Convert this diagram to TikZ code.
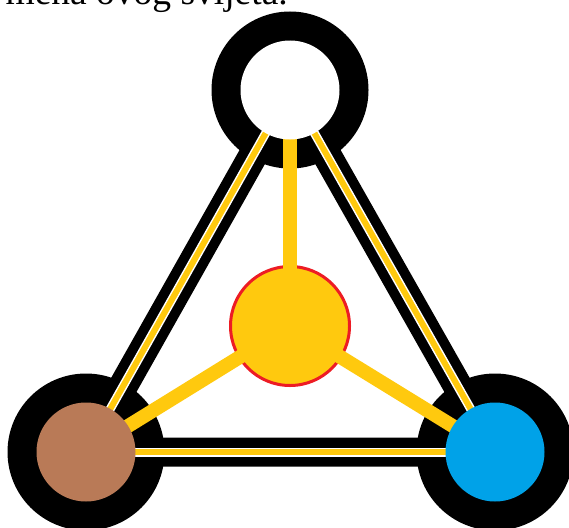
\documentclass[tikz,border=0pt]{standalone}
\usepackage{fontspec}
\setmainfont{Liberation Serif}
\definecolor{ylw}{HTML}{FFC90E}
\definecolor{brn}{HTML}{B97A57}
\definecolor{blu}{HTML}{00A2E8}
\definecolor{rd}{HTML}{ED1C24}
\begin{document}
\begin{tikzpicture}[x=1pt,y=-1pt,
  band/.style={line width=29pt,black},
  stripe/.style={line width=9pt,white},
  yline/.style={line width=6pt,ylw},
  spoke/.style={line width=14pt,ylw},
  ring/.style={circle,fill=black,minimum size=157pt,inner sep=0pt},
  disc/.style={circle,minimum size=99pt,inner sep=0pt},
  hub/.style={circle,fill=ylw,draw=rd,line width=3pt,minimum size=119pt,inner sep=0pt}]
\useasboundingbox (0,0) rectangle (569,527);
\fill[white] (0,0) rectangle (569,527);
\coordinate (T) at (290,90);
\coordinate (L) at (86,452);
\coordinate (R) at (495,452);
\coordinate (C) at (290,326);
% title
\node[anchor=base east,inner sep=0pt,font=\fontsize{37.5}{40}\selectfont] (title) at (288,5) {mena ovog svijeta.};
% black bands and rings
\draw[band] (T) -- (L) -- (R) -- cycle;
\node[ring] (Tr) at (T) {};
\node[ring] (Lr) at (L) {};
\node[ring] (Rr) at (R) {};
% stripes
\draw[stripe] (T) -- (L);
\draw[stripe] (T) -- (R);
\draw[stripe] (L) -- (R);
\draw[yline] (T) -- (L);
\draw[yline] (T) -- (R);
\draw[yline] (L) -- (R);
% hub and spokes
\node[hub] (hub) at (C) {};
\draw[spoke] (hub.center) -- (T);
\draw[spoke] (hub.center) -- (L);
\draw[spoke] (hub.center) -- (R);
% inner discs
\node[disc,fill=white] (top) at (T) {};
\node[disc,fill=brn] (left) at (L) {};
\node[disc,fill=blu] (right) at (R) {};
\end{tikzpicture}
\end{document}
